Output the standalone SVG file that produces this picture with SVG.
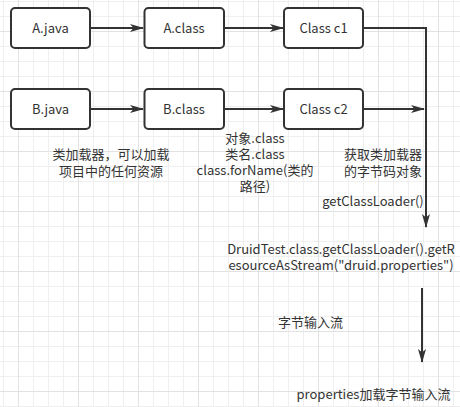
<svg xmlns="http://www.w3.org/2000/svg" width="460" height="407" viewBox="0 0 460 407">
<style>
.node rect{fill:#ffffff;stroke:#333333;stroke-width:2}
text{font-family:"Noto Sans CJK SC","Liberation Sans",sans-serif;font-size:13px;fill:#333333;text-anchor:middle}
.edge{fill:none;stroke:#333333;stroke-width:2}
</style>
<defs>
<pattern id="grid" x="18" y="31" width="60" height="60" patternUnits="userSpaceOnUse">
<path d="M15.5 0V60M30.5 0V60M45.5 0V60M0 15.5H60M0 30.5H60M0 45.5H60" stroke="#efefef" stroke-width="1" fill="none"/>
<path d="M0.5 0V60M0 0.5H60" stroke="#e2e2e2" stroke-width="1" fill="none"/>
</pattern>
<marker id="arr" viewBox="0 0 14 10" refX="13" refY="5" markerWidth="14" markerHeight="10" markerUnits="userSpaceOnUse" orient="auto">
<path d="M0 1L14 5L0 9L3.5 5Z" fill="#333333"/>
</marker>
</defs>
<rect width="460" height="407" fill="#ffffff"/>
<rect width="460" height="407" fill="url(#grid)"/>
<g id="connectors">
<path class="edge" d="M90 28H143" marker-end="url(#arr)"/>
<path class="edge" d="M224 28H283" marker-end="url(#arr)"/>
<path class="edge" d="M363 28H426V227" marker-end="url(#arr)"/>
<path class="edge" d="M90 109H143" marker-end="url(#arr)"/>
<path class="edge" d="M224 109H283" marker-end="url(#arr)"/>
<path class="edge" d="M363 109H424" marker-end="url(#arr)"/>
<path class="edge" d="M422 288V362" marker-end="url(#arr)"/>
</g>
<g id="n-ajava" class="node"><rect x="11" y="8" width="79" height="40" rx="4"/><text x="50.5" y="32.5">A.java</text></g>
<g id="n-aclass" class="node"><rect x="144.5" y="8" width="79.5" height="40" rx="4"/><text x="184" y="32.5">A.class</text></g>
<g id="n-c1" class="node"><rect x="284" y="8" width="79" height="40" rx="4"/><text x="323.5" y="32.5">Class c1</text></g>
<g id="n-bjava" class="node"><rect x="11" y="89" width="79" height="40" rx="4"/><text x="50.5" y="113.5">B.java</text></g>
<g id="n-bclass" class="node"><rect x="144.5" y="89" width="79.5" height="40" rx="4"/><text x="184" y="113.5">B.class</text></g>
<g id="n-c2" class="node"><rect x="284" y="89" width="79" height="40" rx="4"/><text x="323.5" y="113.5">Class c2</text></g>
<g id="t-loader"><text x="111" y="158.5">类加载器，可以加载</text><text x="111" y="175.5">项目中的任何资源</text></g>
<g id="t-ways"><text x="255" y="142.5">对象.class</text><text x="255" y="158.5">类名.class</text><text x="255" y="175">class.forName(类的</text><text x="255" y="190.5">路径)</text></g>
<g id="t-get"><text x="383" y="158.5">获取类加载器</text><text x="383" y="176">的字节码对象</text></g>
<g id="t-gcl"><text x="373" y="205.5">getClassLoader()</text></g>
<g id="t-druid"><text x="341" y="253.5">DruidTest.class.getClassLoader().getR</text><text x="341" y="269.5">esourceAsStream("druid.properties")</text></g>
<g id="t-stream"><text x="310.5" y="326.5">字节输入流</text></g>
<g id="t-props"><text x="373.5" y="398.5">properties加载字节输入流</text></g>
</svg>
